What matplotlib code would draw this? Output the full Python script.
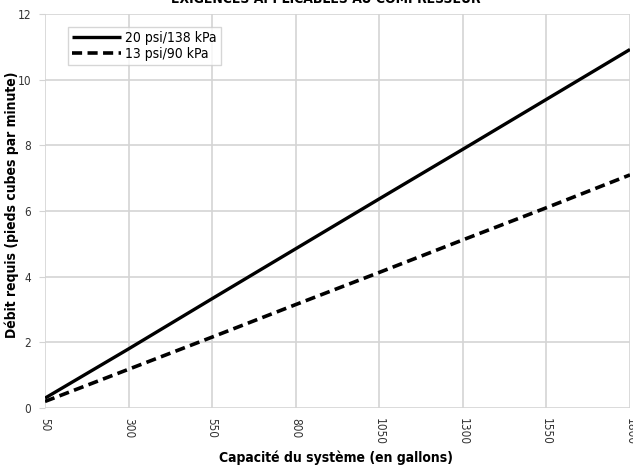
import matplotlib
matplotlib.use("Agg")
import matplotlib.pyplot as plt

plt.rcParams['font.family'] = ['DejaVu Sans']
plt.rcParams['font.stretch'] = 'condensed'

# capacity ticks (gallons) and required flow (cfm)
capacite = [50, 300, 550, 800, 1050, 1300, 1550, 1800]
debit_20psi = [0.3, 1.8, 3.33, 4.85, 6.37, 7.88, 9.4, 10.92]
debit_13psi = [0.2, 1.18, 2.16, 3.15, 4.13, 5.12, 6.1, 7.1]
y_ticks = [0, 2, 4, 6, 8, 10, 12]

fig = plt.figure(figsize=(6.33, 4.68), dpi=100)
ax = fig.add_axes([45 / 633, 1 - 408 / 468, 585 / 633, 394 / 468])

ax.plot(capacite, debit_20psi, color='black', lw=2.4, label='20 psi/138 kPa',
        solid_capstyle='butt')
ax.plot(capacite, debit_13psi, color='black', lw=2.6, ls=(0, (2.8, 1.5)),
        label='13 psi/90 kPa')

ax.set_xlim(50, 1800)
ax.set_ylim(0, 12)
ax.set_xticks(capacite)
ax.set_xticklabels([str(c) for c in capacite], rotation=270, fontsize=8.5,
                   color='#333333')
ax.set_yticks(y_ticks)
ax.set_yticklabels([str(v) for v in y_ticks], fontsize=8.5, color='#333333')
ax.grid(True, color='#d4d4d4', lw=1.2)
ax.set_axisbelow(True)
for s in ax.spines.values():
    s.set_visible(False)
ax.tick_params(axis='x', length=0, pad=7)
ax.tick_params(axis='y', length=4, color='#d4d4d4', pad=6)

ax.set_xlabel('Capacité du système (en gallons)', fontsize=10, fontweight='bold')
ax.xaxis.set_label_coords(0.497, -0.109)
ax.set_ylabel('Débit requis (pieds cubes par minute)', fontsize=10,
              fontweight='bold')
ax.yaxis.set_label_coords(-0.0444, 0.515)
fig.text(0.515, 1.003, 'EXIGENCES APPLICABLES AU COMPRESSEUR', ha='center',
         va='center', fontsize=10, fontweight='bold')

leg = ax.legend(loc='upper left', bbox_to_anchor=(0.039, 0.967), fontsize=10,
                frameon=True, fancybox=False, handlelength=3.5,
                handletextpad=0.3, borderpad=0.3, labelspacing=0.15,
                borderaxespad=0)
leg.get_frame().set_edgecolor('#cccccc')
leg.get_frame().set_linewidth(1.0)

fig.savefig('out.png', dpi=100)
